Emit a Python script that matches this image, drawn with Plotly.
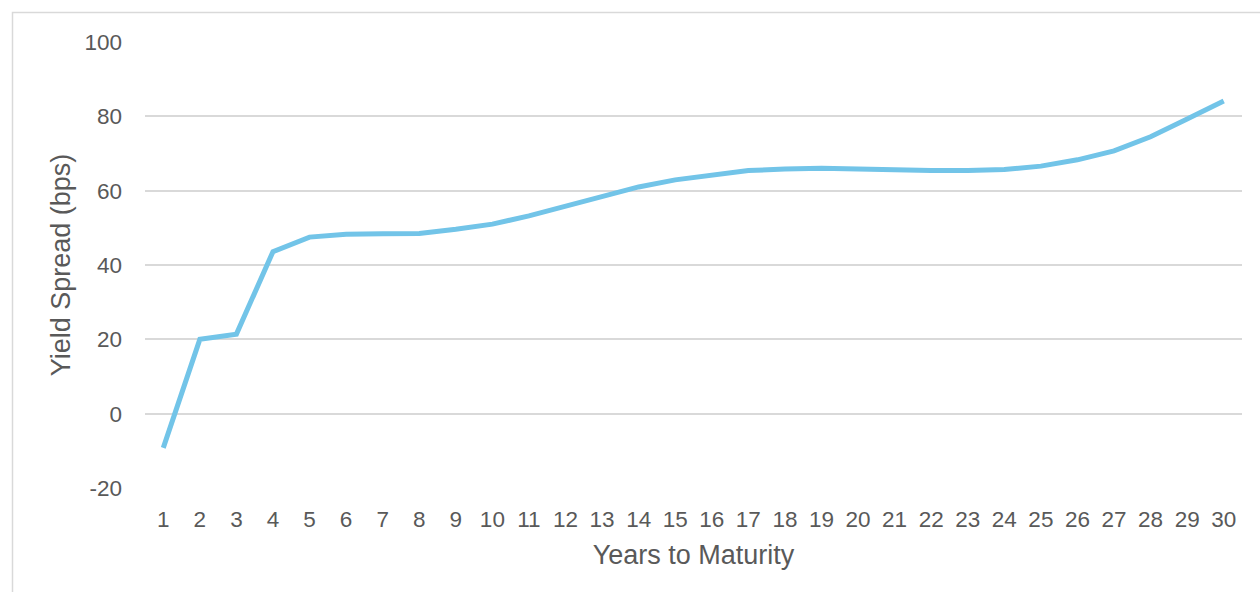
import plotly.graph_objects as go

years = list(range(1, 31))
spread_bps = [-9.2, 20.0, 21.4, 43.6, 47.5, 48.3, 48.4, 48.5, 49.6, 51.0,
              53.2, 55.8, 58.6, 61.0, 62.9, 64.3, 65.4, 65.8, 66.0, 65.8,
              65.5, 65.4, 65.4, 65.7, 66.6, 68.3, 70.7, 74.5, 79.3, 84.1]
y_ticks = [-20, 0, 20, 40, 60, 80, 100]
y_tick_text = ["-20", "0", "20", "40", "60", "80", "100"]

x_labels = [str(v) for v in years]

fig = go.Figure()
fig.add_trace(go.Scatter(
    x=x_labels, y=spread_bps, mode="lines",
    line=dict(color="#72C4E8", width=5),
    hoverinfo="x+y", showlegend=False,
))

FONT = "Liberation Sans, Arial, sans-serif"
TXT = "#595959"

W, H = 1260, 592
ml, mr, mt, mb = 145, 18, 42, 104
pw, ph = W - ml - mr, H - mt - mb

def px_to_paper_x(px):
    return (px - ml) / pw

def px_to_paper_y(py):
    return (H - mb - py) / ph

fig.update_layout(
    width=W, height=H,
    margin=dict(l=ml, r=mr, t=mt, b=mb),
    paper_bgcolor="white", plot_bgcolor="white",
    font=dict(family=FONT, color=TXT, size=22),
    xaxis=dict(
        type="category", range=[-0.5, 29.5],
        showgrid=False, zeroline=False, showline=False, ticks="",
        tickfont=dict(size=22.5, color=TXT),
        ticklabelstandoff=15,
        title=dict(text="Years to Maturity", font=dict(size=27, color=TXT), standoff=14),
    ),
    yaxis=dict(
        range=[-20, 100], tickvals=y_ticks, ticktext=y_tick_text,
        showgrid=True, gridcolor="#D9D9D9", gridwidth=1.5,
        zeroline=False, showline=False, ticks="",
        tickfont=dict(size=22.5, color=TXT),
        ticklabelstandoff=22,
        title=dict(text="Yield Spread (bps)", font=dict(size=27, color=TXT), standoff=6),
    ),
    shapes=[dict(
        type="rect", xref="paper", yref="paper",
        x0=px_to_paper_x(12.5), x1=px_to_paper_x(1275),
        y0=px_to_paper_y(610), y1=px_to_paper_y(12.5),
        line=dict(color="#D9D9D9", width=1.5), fillcolor="rgba(0,0,0,0)",
        layer="below",
    )],
)

fig.write_html("out.html")
